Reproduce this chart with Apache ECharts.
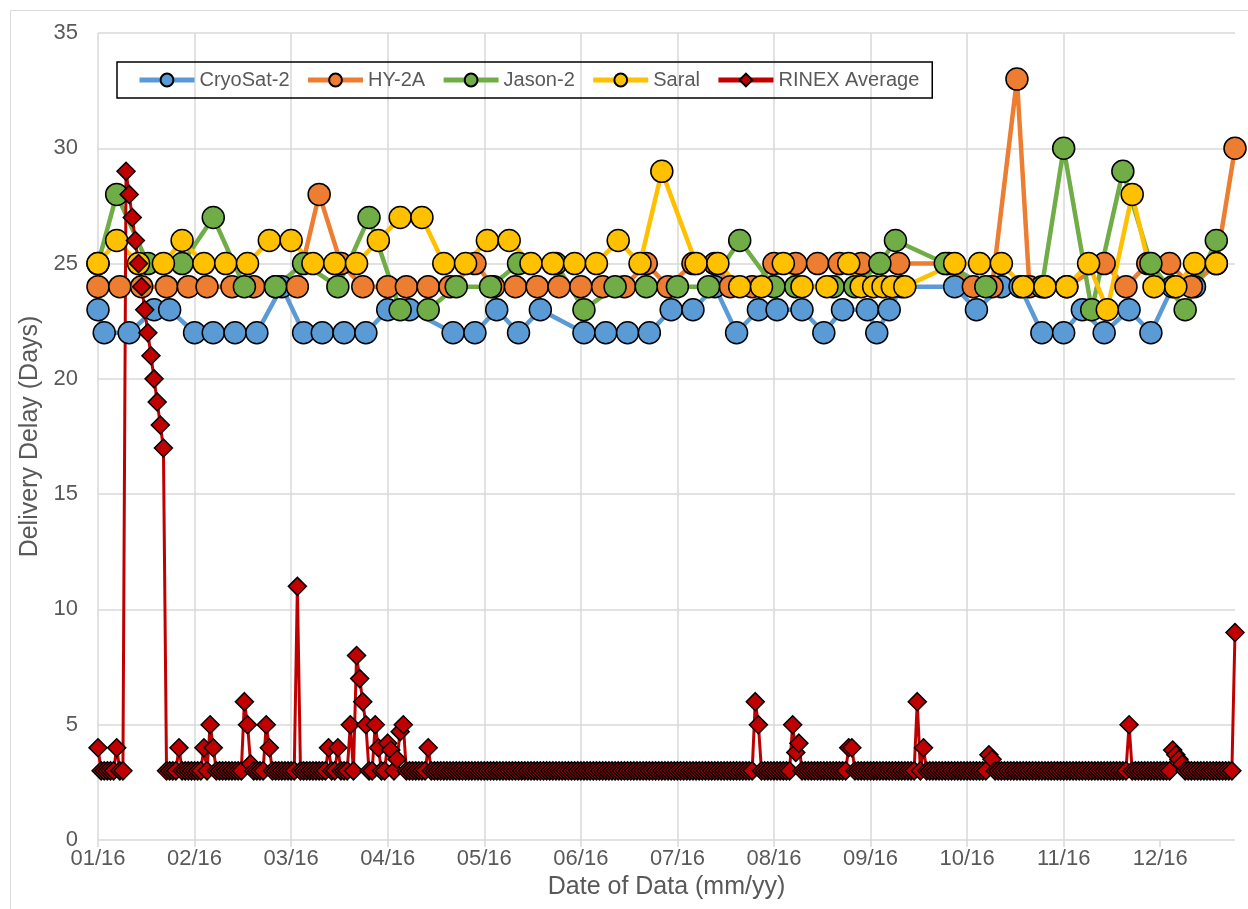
<!DOCTYPE html>
<html>
<head>
<meta charset="utf-8">
<script src="https://cdn.jsdelivr.net/npm/echarts@6/dist/echarts.min.js"></script>
<style>
  html, body { margin: 0; padding: 0; background: #fff; }
  #chart { width: 1248px; height: 909px; }
</style>
</head>
<body>
<div id="chart"></div>
<script>
// x = day of 2016 (0 = 1 Jan), y = delivery delay in days
var xTicks = [0, 31, 62, 93, 124, 155, 186, 217, 248, 279, 310, 341];
var xTickLabels = ['01/16', '02/16', '03/16', '04/16', '05/16', '06/16', '07/16', '08/16', '09/16', '10/16', '11/16', '12/16'];

var cryoDays = [0, 2, 10, 18, 23, 31, 37, 44, 51, 59, 66, 72, 79, 86, 93, 100, 114, 121, 128, 135, 142, 156, 163, 170, 177,
  184, 191, 198, 205, 212, 218, 226, 233, 239, 247, 250, 254, 258, 275, 282, 290, 296, 303, 310, 316, 323, 331, 338, 345, 352];
var cryoVals = [23, 22, 22, 23, 23, 22, 22, 22, 22, 24, 22, 22, 22, 22, 23, 23, 22, 22, 23, 22, 23, 22, 22, 22, 22,
  23, 23, 24, 22, 23, 23, 23, 22, 23, 23, 22, 23, 24, 24, 23, 24, 24, 22, 22, 23, 22, 23, 22, 24, 24];

var hyDays = [0, 7, 14, 22, 29, 35, 43, 50, 57, 64, 71, 78, 85, 93, 99, 106, 113, 121, 127, 134, 141, 148, 155, 162, 169,
  176, 183, 191, 198, 203, 210, 217, 224, 231, 238, 245, 257, 273, 281, 287, 295, 299, 304, 311, 323, 330, 337, 344, 351, 359, 365];
var hyVals = [24, 24, 24, 24, 24, 24, 24, 24, 24, 24, 28, 25, 24, 24, 24, 24, 24, 25, 24, 24, 24, 24, 24, 24, 24,
  25, 24, 25, 25, 24, 24, 25, 25, 25, 25, 25, 25, 25, 24, 24, 33, 24, 24, 24, 25, 24, 25, 25, 24, 25, 30];

var jasonDays = [0, 6, 16, 27, 37, 47, 57, 66, 77, 87, 97, 106, 115, 126, 135, 147, 156, 166, 176, 186,
  196, 206, 217, 224, 236, 243, 251, 256, 272, 285, 303, 310, 319, 329, 338, 349, 359];
var jasonVals = [25, 28, 25, 25, 27, 24, 24, 25, 24, 27, 23, 23, 24, 24, 25, 25, 23, 24, 24, 24,
  24, 26, 24, 24, 24, 24, 25, 26, 25, 24, 24, 30, 23, 29, 25, 23, 26];

var saralDays = [0, 6, 13, 21, 27, 34, 41, 48, 55, 62, 69, 76, 83, 90, 97, 104, 111, 118, 125, 132, 139, 146, 153, 160, 167,
  174, 181, 192, 199, 206, 213, 220, 226, 234, 241, 245, 249, 252, 255, 259, 275, 283, 290, 297, 304, 311, 318, 324, 332, 339, 346, 352, 359];
var saralVals = [25, 26, 25, 25, 26, 25, 25, 25, 26, 26, 25, 25, 25, 26, 27, 27, 25, 25, 26, 26, 25, 25, 25, 25, 26,
  25, 29, 25, 25, 24, 24, 25, 24, 24, 25, 24, 24, 24, 24, 24, 25, 25, 25, 24, 24, 24, 25, 23, 28, 24, 24, 25, 25];

// RINEX average, one value per day (index = day of year)
var rinexVals = [
  4, 3, 3, 3, 3, 3, 4, 3, 3, 29,            // 0-9
  28, 27, 26, 25, 24, 23, 22, 21, 20, 19,   // 10-19
  18, 17, 3, 3, 3, 3, 4, 3, 3, 3,           // 20-29
  3, 3, 3, 3, 4, 3, 5, 4, 3, 3,             // 30-39
  3, 3, 3, 3, 3, 3, 3, 6, 5, 3.3,           // 40-49
  3, 3, 3, 3, 5, 4, 3, 3, 3, 3,             // 50-59
  3, 3, 3, 3, 11, 3, 3, 3, 3, 3,            // 60-69
  3, 3, 3, 3, 4, 3, 3, 4, 3, 3,             // 70-79
  3, 5, 3, 8, 7, 6, 5, 3, 3, 5,             // 80-89
  4, 3, 3, 4.2, 3.9, 3, 3.5, 4.7, 5, 3,     // 90-99
  3, 3, 3, 3, 3, 3, 4, 3, 3, 3,             // 100-109
  3, 3, 3, 3, 3, 3, 3, 3, 3, 3,             // 110-119
  3, 3, 3, 3, 3, 3, 3, 3, 3, 3,             // 120-129
  3, 3, 3, 3, 3, 3, 3, 3, 3, 3,             // 130-139
  3, 3, 3, 3, 3, 3, 3, 3, 3, 3,             // 140-149
  3, 3, 3, 3, 3, 3, 3, 3, 3, 3,             // 150-159
  3, 3, 3, 3, 3, 3, 3, 3, 3, 3,             // 160-169
  3, 3, 3, 3, 3, 3, 3, 3, 3, 3,             // 170-179
  3, 3, 3, 3, 3, 3, 3, 3, 3, 3,             // 180-189
  3, 3, 3, 3, 3, 3, 3, 3, 3, 3,             // 190-199
  3, 3, 3, 3, 3, 3, 3, 3, 3, 3,             // 200-209
  3, 6, 5, 3, 3, 3, 3, 3, 3, 3,             // 210-219
  3, 3, 3, 5, 3.8, 4.2, 3, 3, 3, 3,         // 220-229
  3, 3, 3, 3, 3, 3, 3, 3, 3, 3,             // 230-239
  3, 4, 4, 3, 3, 3, 3, 3, 3, 3,             // 240-249
  3, 3, 3, 3, 3, 3, 3, 3, 3, 3,             // 250-259
  3, 3, 3, 6, 3, 4, 3, 3, 3, 3,             // 260-269
  3, 3, 3, 3, 3, 3, 3, 3, 3, 3,             // 270-279
  3, 3, 3, 3, 3, 3, 3.7, 3.5, 3, 3,         // 280-289
  3, 3, 3, 3, 3, 3, 3, 3, 3, 3,             // 290-299
  3, 3, 3, 3, 3, 3, 3, 3, 3, 3,             // 300-309
  3, 3, 3, 3, 3, 3, 3, 3, 3, 3,             // 310-319
  3, 3, 3, 3, 3, 3, 3, 3, 3, 3,             // 320-329
  3, 5, 3, 3, 3, 3, 3, 3, 3, 3,             // 330-339
  3, 3, 3, 3, 3, 3.9, 3.7, 3.5, 3.3, 3,     // 340-349
  3, 3, 3, 3, 3, 3, 3, 3, 3, 3,             // 350-359
  3, 3, 3, 3, 3, 9                          // 360-365
];

function pairs(days, vals) {
  return days.map(function (d, i) { return [d, vals[i]]; });
}

var textColor = '#595959';
var gridColor = '#d9d9d9';
var font = 'Liberation Sans, Arial, sans-serif';

function satSeries(name, color, days, vals) {
  return {
    name: name,
    type: 'line',
    data: pairs(days, vals),
    symbol: 'circle',
    symbolSize: 22,
    lineStyle: { color: color, width: 4.5 },
    itemStyle: { color: color, borderColor: '#000', borderWidth: 1.5 },
    emphasis: { disabled: true }
  };
}

var chart = echarts.init(document.getElementById('chart'));
chart.setOption({
  animation: false,
  backgroundColor: '#fff',
  textStyle: { fontFamily: font },
  grid: { left: 98, right: 13, top: 33, bottom: 69 },
  legend: {
    left: 117,
    top: 62,
    padding: [8, 13, 8, 20],
    itemWidth: 55,
    itemHeight: 16,
    itemGap: 16,
    borderColor: '#000',
    borderWidth: 1.5,
    lineStyle: { width: 5 },
    textStyle: { color: textColor, fontSize: 20, fontFamily: font },
    data: ['CryoSat-2', 'HY-2A', 'Jason-2', 'Saral', 'RINEX Average']
  },
  xAxis: {
    type: 'value',
    min: 0,
    max: 365,
    interval: 31,
    name: 'Date of Data (mm/yy)',
    nameLocation: 'middle',
    nameGap: 33,
    nameTextStyle: { color: textColor, fontSize: 25, fontFamily: font },
    axisLine: { show: false },
    axisTick: { show: true, length: 7, lineStyle: { color: gridColor, width: 1.5 }, customValues: xTicks },
    axisLabel: {
      color: textColor, fontSize: 22, margin: 8, customValues: xTicks,
      formatter: function (v) {
        var i = xTicks.indexOf(v);
        return i >= 0 ? xTickLabels[i] : '';
      }
    },
    splitLine: { show: true, showMaxLine: false, lineStyle: { color: gridColor, width: 1.5 } }
  },
  yAxis: {
    type: 'value',
    min: 0,
    max: 35,
    interval: 5,
    name: 'Delivery Delay (Days)',
    nameLocation: 'middle',
    nameGap: 52,
    nameTextStyle: { color: textColor, fontSize: 25, fontFamily: font },
    axisLine: { show: false },
    axisTick: { show: false },
    axisLabel: { color: textColor, fontSize: 22, margin: 20 },
    splitLine: { show: true, lineStyle: { color: gridColor, width: 1.5 } }
  },
  graphic: [{
    type: 'rect',
    silent: true,
    shape: { x: 10.5, y: 10.5, width: 1300, height: 1000 },
    style: { fill: 'none', stroke: gridColor, lineWidth: 1 }
  }],
  series: [
    satSeries('CryoSat-2', '#5b9bd5', cryoDays, cryoVals),
    satSeries('HY-2A', '#ed7d31', hyDays, hyVals),
    satSeries('Jason-2', '#70ad47', jasonDays, jasonVals),
    satSeries('Saral', '#ffc000', saralDays, saralVals),
    {
      name: 'RINEX Average',
      type: 'line',
      data: rinexVals.map(function (v, i) { return [i, v]; }),
      symbol: 'diamond',
      symbolSize: 18,
      lineStyle: { color: '#c00000', width: 3 },
      itemStyle: { color: '#c00000', borderColor: '#000', borderWidth: 1.5 },
      emphasis: { disabled: true }
    }
  ]
});
</script>
</body>
</html>
